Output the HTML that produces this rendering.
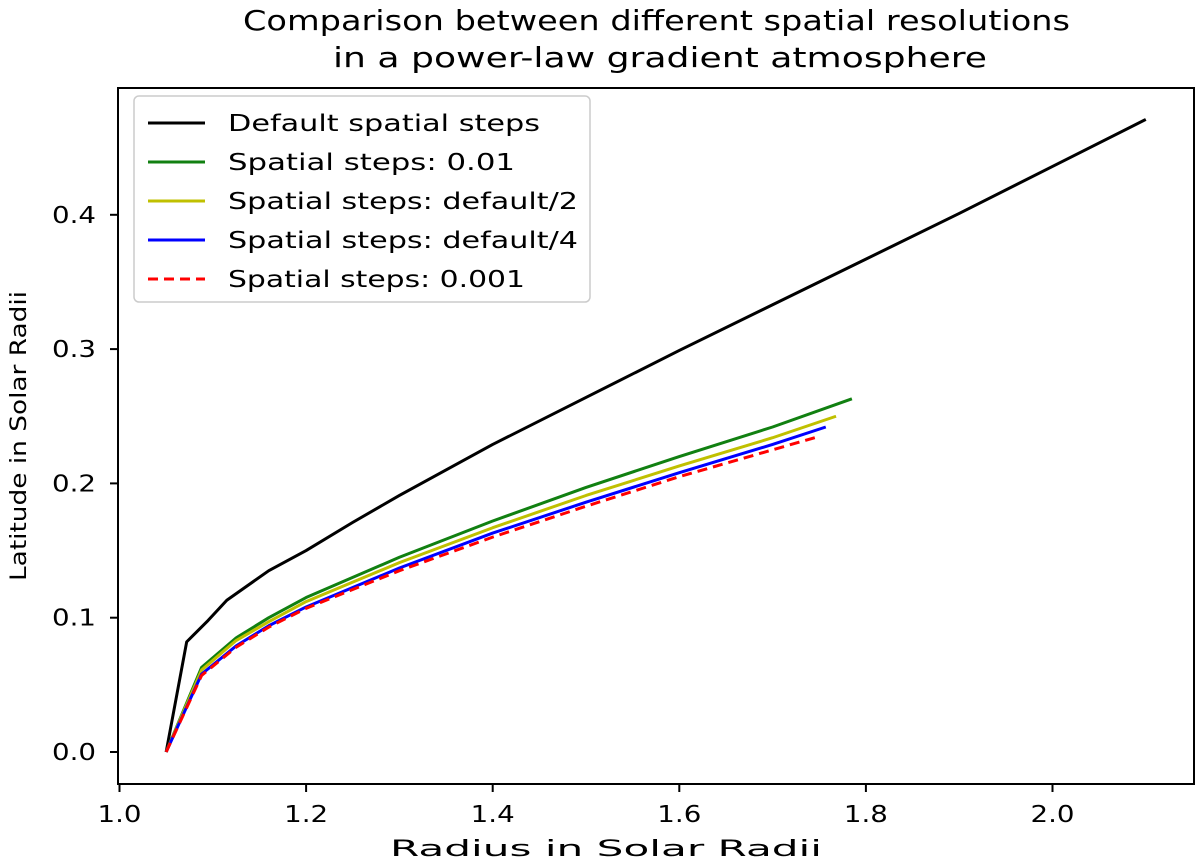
<!DOCTYPE html>
<html><head><meta charset="utf-8"><style>
body{margin:0;background:#fff;}
svg text{font-family:"DejaVu Sans","Liberation Sans",sans-serif;fill:#000;}
</style></head><body>
<svg id="chart" width="1200" height="862">
<text x="243" y="30" font-size="28" textLength="827" lengthAdjust="spacingAndGlyphs">Comparison between different spatial resolutions</text>
<text x="333" y="67" font-size="28" textLength="654" lengthAdjust="spacingAndGlyphs">in a power-law gradient atmosphere</text>
<rect x="118" y="88" width="1076" height="696" fill="none" stroke="#000" stroke-width="2"/>
<g id="ticks"></g>
<g id="series"></g>
<text x="390" y="856" font-size="22" textLength="432" lengthAdjust="spacingAndGlyphs">Radius in Solar Radii</text>
<text transform="translate(26,581) rotate(-90)" font-size="22" textLength="290" lengthAdjust="spacingAndGlyphs">Latitude in Solar Radii</text>
<g>
<rect x="134" y="96" width="456" height="206" rx="5" fill="#fff" stroke="#ccc" stroke-width="1.5"/>
<g id="legend-items"></g>
</g>
</svg>
<script>
const xTicks=[1.0,1.2,1.4,1.6,1.8,2.0];
const yTicks=[0.0,0.1,0.2,0.3,0.4];
const labels=["Default spatial steps","Spatial steps: 0.01","Spatial steps: default/2","Spatial steps: default/4","Spatial steps: 0.001"];
const labelWidths=[312,287,350,350,297];
const colors=["#000","#118011","#c0c000","#0000ff","#ff0000"];
const blackX=[1.05,1.072,1.095,1.115,1.16,1.2,1.25,1.3,1.4,1.5,1.6,1.7,1.8,1.9,2.0,2.1];
const blackY=[0,0.082,0.098,0.113,0.135,0.15,0.171,0.191,0.229,0.264,0.299,0.333,0.367,0.401,0.436,0.471];
const greenX=[1.05,1.088,1.125,1.16,1.2,1.3,1.4,1.5,1.6,1.7,1.785];
const greenY=[0,0.063,0.085,0.1,0.115,0.145,0.172,0.197,0.22,0.242,0.263];
const yellowX=[1.05,1.088,1.125,1.16,1.2,1.3,1.4,1.5,1.6,1.7,1.768];
const yellowY=[0,0.061,0.083,0.097,0.112,0.141,0.167,0.191,0.213,0.234,0.25];
const blueX=[1.05,1.088,1.125,1.16,1.2,1.3,1.4,1.5,1.6,1.7,1.757];
const blueY=[0,0.058,0.079,0.094,0.108,0.137,0.163,0.186,0.208,0.229,0.242];
const redX=[1.05,1.088,1.125,1.16,1.2,1.3,1.4,1.5,1.6,1.7,1.75];
const redY=[0,0.057,0.078,0.093,0.107,0.135,0.16,0.183,0.205,0.225,0.235];
const NS="http://www.w3.org/2000/svg";
function sx(v){return 119.5+(v-1.0)*933;}
function sy(v){return 752-v*1343;}
function mk(t,a,p){const e=document.createElementNS(NS,t);for(const k in a)e.setAttribute(k,a[k]);p.appendChild(e);return e;}
const tg=document.getElementById('ticks');
xTicks.forEach(v=>{const x=sx(v);
const l=mk('line',{x1:x,x2:x,y1:784,y2:792,stroke:'#000','stroke-width':2},tg);


const t=mk('text',{x:x-22,y:822,'font-size':23,textLength:44,lengthAdjust:'spacingAndGlyphs'},tg);t.textContent=v.toFixed(1);

});
yTicks.forEach(v=>{const y=sy(v);
const l=mk('line',{x1:110,x2:118,y1:y,y2:y,stroke:'#000','stroke-width':2},tg);


const t=mk('text',{x:52,y:y+8,'font-size':23,textLength:44,lengthAdjust:'spacingAndGlyphs'},tg);t.textContent=v.toFixed(1);

});
const sg=document.getElementById('series');
const sets=[[blackX,blackY],[greenX,greenY],[yellowX,yellowY],[blueX,blueY],[redX,redY]];
const names=['series-default','series-0-01','series-default-2','series-default-4','series-0-001'];
sets.forEach((s,i)=>{const pts=s[0].map((x,j)=>sx(x)+','+sy(s[1][j])).join(' ');
const a={points:pts,fill:'none',stroke:colors[i],'stroke-width':3,'stroke-linejoin':'round'};
if(i==4)a['stroke-dasharray']='10,6';
const p=mk('polyline',a,sg);

});
const lg=document.getElementById('legend-items');
labels.forEach((lab,i)=>{const y=123+i*39;
const a={x1:148,x2:205,y1:y,y2:y,stroke:colors[i],'stroke-width':3};
if(i==4)a['stroke-dasharray']='10,6';
const l=mk('line',a,lg);


const t=mk('text',{x:228,y:y+8,'font-size':23,textLength:labelWidths[i],lengthAdjust:'spacingAndGlyphs'},lg);t.textContent=lab;

});
</script>
</body></html>
